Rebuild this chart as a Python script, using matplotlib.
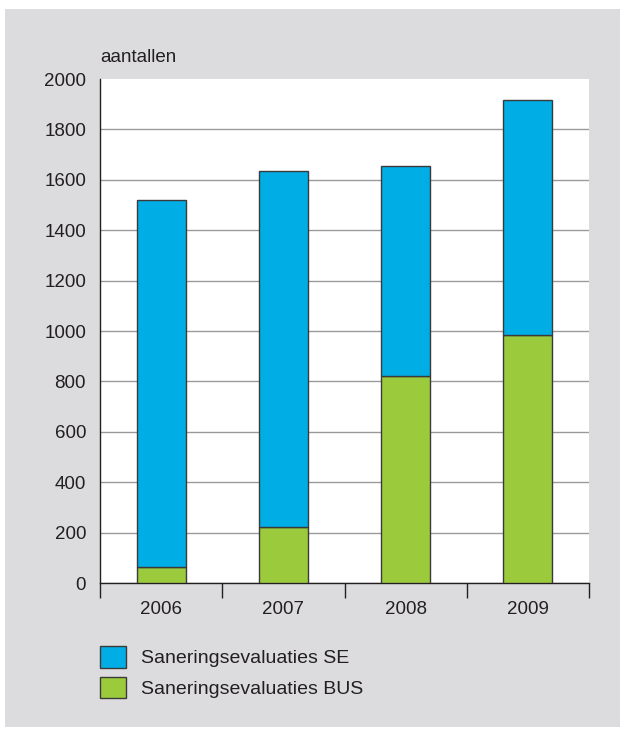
import matplotlib.pyplot as plt
from matplotlib.patches import Rectangle, Patch

plt.rcParams.update({"font.family": ["Liberation Sans", "DejaVu Sans"], "font.size": 13})

# --- data ---
years = ["2006", "2007", "2008", "2009"]
bus = [63, 222, 821, 984]
total = [1520, 1635, 1655, 1917]
se = [t - b for t, b in zip(total, bus)]

BLUE = "#00ade5"
GREEN = "#9bcb3c"
GRAY_BG = "#dcdcde"
TXT = "#231f20"

fig = plt.figure(figsize=(6.2, 7.3), dpi=100)
fig.patch.set_facecolor("white")
# gray panel behind the chart
fig.add_artist(Rectangle((5 / 620, 0.004), 1, 1 - 9 / 730 - 0.004, transform=fig.transFigure,
                         facecolor=GRAY_BG, edgecolor="none", zorder=-10))

ax = fig.add_axes([100 / 620, 1 - 583 / 730, 489 / 620, 504 / 730])
ax.set_facecolor("white")
x = list(range(len(years)))
w = 0.4
ax.bar(x, bus, w, color=GREEN, edgecolor="#3a3a3a", linewidth=1, zorder=3, label="Saneringsevaluaties BUS")
ax.bar(x, se, w, bottom=bus, color=BLUE, edgecolor="#3a3a3a", linewidth=1, zorder=3, label="Saneringsevaluaties SE")

ax.set_xlim(-0.5, len(years) - 0.5)
ax.set_ylim(0, 2000)
ax.set_yticks(range(0, 2001, 200))
ax.yaxis.grid(True, color="#9a9a9a", linewidth=1)
ax.yaxis.get_gridlines()[-1].set_visible(False)
ax.set_axisbelow(True)
ax.tick_params(axis="y", length=0, pad=10, labelcolor=TXT, labelsize=13.5)
ax.set_xticks([i + 0.5 for i in range(-1, len(years))], minor=False)
ax.set_xticklabels([])
ax.tick_params(axis="x", which="major", length=11, width=1, color=TXT)
ax.set_xticks(x, minor=True)
ax.set_xticklabels(years, minor=True)
ax.tick_params(axis="x", which="minor", length=0, pad=13, labelcolor=TXT, labelsize=13.5)
for s in ["top", "right"]:
    ax.spines[s].set_visible(False)
for s in ["left", "bottom"]:
    ax.spines[s].set_color(TXT)
    ax.spines[s].set_linewidth(1)

ax.text(0, 1.025, "aantallen", transform=ax.transAxes, ha="left", va="bottom", color=TXT, fontsize=13.5)

handles = [Patch(facecolor=BLUE, edgecolor="#3a3a3a", label="Saneringsevaluaties SE"),
           Patch(facecolor=GREEN, edgecolor="#3a3a3a", label="Saneringsevaluaties BUS")]
fig.legend(handles=handles, loc="upper left", bbox_to_anchor=(100 / 620, 1 - 646 / 730),
           frameon=False, borderpad=0, borderaxespad=0,
           handlelength=1.35, handleheight=1.35, handletextpad=0.75,
           labelspacing=0.45, fontsize=14, labelcolor=TXT)

fig.savefig("out.png", dpi=100, facecolor=fig.get_facecolor())
